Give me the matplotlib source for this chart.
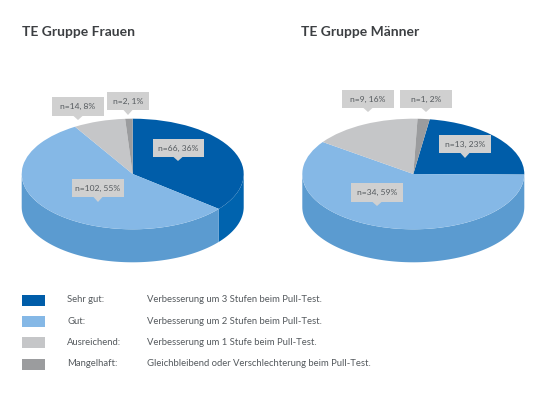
import numpy as np
import matplotlib
matplotlib.use("Agg")
import matplotlib.pyplot as plt
from matplotlib.patches import Rectangle, Polygon

plt.rcParams['font.family'] = ['Lato', 'DejaVu Sans']

W, H = 560, 396

# data
n_women = [66, 102, 14, 2]
pct_women = [36, 55, 8, 1]
n_men = [13, 34, 9, 1]
pct_men = [23, 59, 16, 2]
grades = ['Sehr gut:', 'Gut:', 'Ausreichend:', 'Mangelhaft:']
descriptions = ['Verbesserung um 3 Stufen beim Pull-Test.',
                'Verbesserung um 2 Stufen beim Pull-Test.',
                'Verbesserung um 1 Stufe beim Pull-Test.',
                'Gleichbleibend oder Verschlechterung beim Pull-Test.']

top_colors = ['#005da9', '#85b8e6', '#c5c6c8', '#9b9c9e']
side_colors = ['#0063ae', '#5b9bd0', '#a9aaac', '#87888a']
text_color = '#555a5e'
box_color = '#d0d0d0'

RX, RY, DEPTH = 111.0, 55.3, 33.0


def draw_pie(fig, cx, cy, values, start_cw):
    # one unit = RX px across, RY px down, so the pie comes out as a flat ellipse
    x0, x1 = -1.1, 1.1
    y0, y1 = -1.8, 1.1
    ax = fig.add_axes([(cx + x0 * RX) / W, 1 - (cy - y0 * RY) / H,
                       (x1 - x0) * RX / W, (y1 - y0) * RY / H])
    ax.pie(values, colors=top_colors, startangle=90 - start_cw, counterclock=False,
           radius=1, wedgeprops={'linewidth': 0, 'zorder': 3})
    ax.set_aspect('auto')
    ax.set_xlim(x0, x1)
    ax.set_ylim(y0, y1)

    # side wall, only the front half shows
    d = DEPTH / RY
    edges = start_cw + np.concatenate([[0], np.cumsum(values)]) / np.sum(values) * 360
    for i in range(len(values)):
        a0, a1 = max(edges[i], 90), min(edges[i + 1], 270)
        if a1 <= a0:
            continue
        a = np.radians(np.linspace(a0, a1, 120))
        xs, ys = np.sin(a), np.cos(a)
        wall = np.column_stack([np.r_[xs, xs[::-1]], np.r_[ys, ys[::-1] - d]])
        ax.add_patch(Polygon(wall, closed=True, fc=side_colors[i], lw=0, zorder=2))
    return ax


def callout(ov, x, y, w, h, tip_x, tip_y, text):
    ov.add_patch(Rectangle((x, y), w, h, fc=box_color, lw=0, zorder=5))
    ov.add_patch(Polygon([(tip_x - 4.5, y + h), (tip_x + 4.5, y + h), (tip_x, tip_y)],
                         closed=True, fc=box_color, lw=0, zorder=5))
    ov.text(x + w / 2, y + h / 2, text, ha='center', va='center', fontsize=6.1,
            color=text_color, zorder=6)


fig = plt.figure(figsize=(W / 100, H / 100), dpi=100, facecolor='white')

draw_pie(fig, 132.7, 174, n_women, 0)
draw_pie(fig, 413.3, 174, n_men, 8.5)

ov = fig.add_axes([0, 0, 1, 1], facecolor='none')
ov.set_xlim(0, W)
ov.set_ylim(H, 0)
ov.axis('off')

ov.text(22, 32, 'TE Gruppe Frauen', fontsize=10, fontweight='bold', color='#3c3f42', va='center')
ov.text(301, 32, 'TE Gruppe Männer', fontsize=10, fontweight='bold', color='#3c3f42', va='center')

boxes_women = [(153, 139, 51, 18, 178, 161), (72, 179, 52, 18, 98, 202),
               (52, 97, 52, 19, 78, 120), (107, 92, 42, 18, 128, 115)]
boxes_men = [(439, 135, 52, 18, 465, 158), (351, 183, 52, 19, 377, 206),
             (342, 90, 52, 18, 368, 112), (400, 90, 52, 18, 426, 112)]
for ns, pcts, boxes in [(n_women, pct_women, boxes_women), (n_men, pct_men, boxes_men)]:
    for n, p, b in zip(ns, pcts, boxes):
        callout(ov, *b, f'n={n}, {p}%')

legend_y = [300, 321.5, 342.5, 364]
for y, c, g, d in zip(legend_y, top_colors, grades, descriptions):
    ov.add_patch(Rectangle((21.5, y - 5.5), 23, 11, fc=c, lw=0))
    ov.text(67, y, g, fontsize=6.8, color=text_color, va='center')
    ov.text(147, y, d, fontsize=6.8, color=text_color, va='center')

fig.savefig('out.png', dpi=100)
